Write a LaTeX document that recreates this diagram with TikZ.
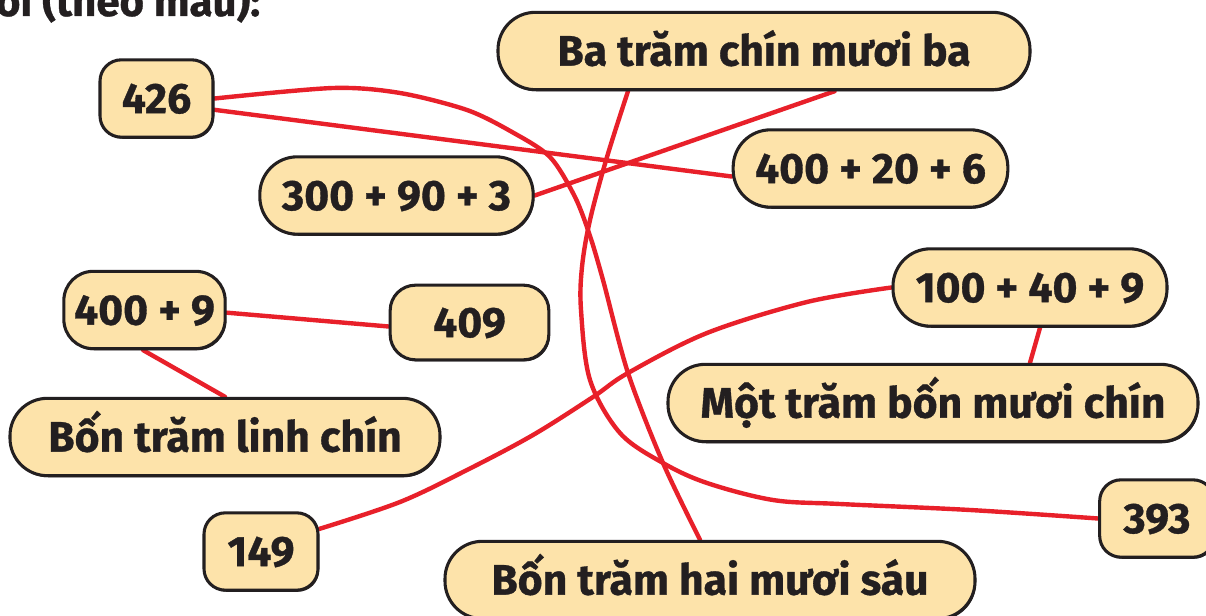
\documentclass[tikz,border=0pt]{standalone}
\usepackage{fontspec}
\setmainfont{Fira Sans}[BoldFeatures={FakeBold=0.8}]
\usetikzlibrary{shadows}
\pgfdeclarelayer{bottom}
\pgfdeclarelayer{background}
\pgfsetlayers{bottom,background,main}
\definecolor{boxfill}{HTML}{FDE3AA}
\definecolor{boxline}{HTML}{231F20}
\definecolor{linkred}{HTML}{E8202A}
\begin{document}
\begin{tikzpicture}[x=0.75pt,y=-0.75pt,
  box/.style={draw=boxline, line width=2.3pt, fill=boxfill,
    font=\fontsize{32}{38}\selectfont\bfseries, text=boxline, inner sep=0pt,
    text height=22pt, text depth=0pt, minimum height=58pt,
    general shadow={fill=boxline, shadow xshift=0.8pt, shadow yshift=-1.2pt}},
  pill/.style={box, rounded corners=28pt},
  tile/.style={box, rounded corners=16pt},
  link/.style={draw=linkred, line width=3.3pt, line cap=round}]
\clip (0,0) rectangle (1206,616);
\begin{pgfonlayer}{bottom}
\fill[white] (0,0) rectangle (1206,616);
\end{pgfonlayer}

\node[anchor=base east, font=\fontsize{31.5}{38}\selectfont\bfseries, text=boxline] (head) at (265,16) {Nối (theo mẫu):};

\node[tile, minimum width=84.75pt] (n426) at (156.5,98.5) {426};
\node[pill, minimum width=399pt] (ba) at (764,51) {Ba trăm chín mươi ba};
\node[pill, minimum width=206pt] (e426) at (870.5,168.5) {400 + 20 + 6};
\node[pill, minimum width=205pt] (e393) at (396.5,195.5) {300 + 90 + 3};
\node[box, rounded corners=22pt, minimum width=121pt] (e409) at (144.5,310) {400 + 9};
\node[box, rounded corners=19pt, minimum width=119pt, minimum height=56pt] (n409) at (469.5,322.5) {409};
\node[pill, minimum width=205.5pt] (e149) at (1030,287.5) {100 + 40 + 9};
\node[pill, minimum width=397.5pt] (mot) at (933,403) {Một trăm bốn mươi chín};
\node[pill, minimum width=322.5pt] (bonlinh) at (225,437) {Bốn trăm linh chín};
\node[tile, minimum width=85.5pt] (n149) at (261,551.5) {149};
\node[tile, minimum width=86pt] (n393) at (1157,518.5) {393};
\node[pill, minimum width=397.5pt] (bonhai) at (710,580) {Bốn trăm hai mươi sáu};

\begin{pgfonlayer}{background}
\draw[link] plot[smooth, tension=0.5] coordinates {(n426.east) (333,88) (400,93) (467,110) (512,132) (550,157) (575,197) (590,236) (603,280) (628,373) (663,463) ([xshift=-7.5pt]bonhai.north)};
\draw[link] ([yshift=-8.5pt]n426.east) -- ([yshift=-6pt]e426.west);
\draw[link] (e393.east) -- ([xshift=53pt]ba.south);
\draw[link] plot[smooth, tension=0.55] coordinates {([xshift=-102pt]ba.south) (607,157) (590,220) (582,267) (581,310) (590,380) (620,433) (663,463) (707,483) (773,500) (840,504) (970,510) (n393.west)};
\draw[link] ([yshift=-2pt]e409.east) -- ([yshift=-3pt]n409.west);
\draw[link] ([xshift=-1pt]e409.south) -- (bonlinh.north);
\draw[link] plot[smooth, tension=0.55] coordinates {([yshift=17pt]n149.east) (400,502) (467,470) (533,435) (593,397) (628,373) (707,333) (807,302) (e149.west)};
\draw[link] ([xshift=7.5pt]e149.south) -- ([xshift=72.75pt]mot.north);
\end{pgfonlayer}
\end{tikzpicture}
\end{document}
